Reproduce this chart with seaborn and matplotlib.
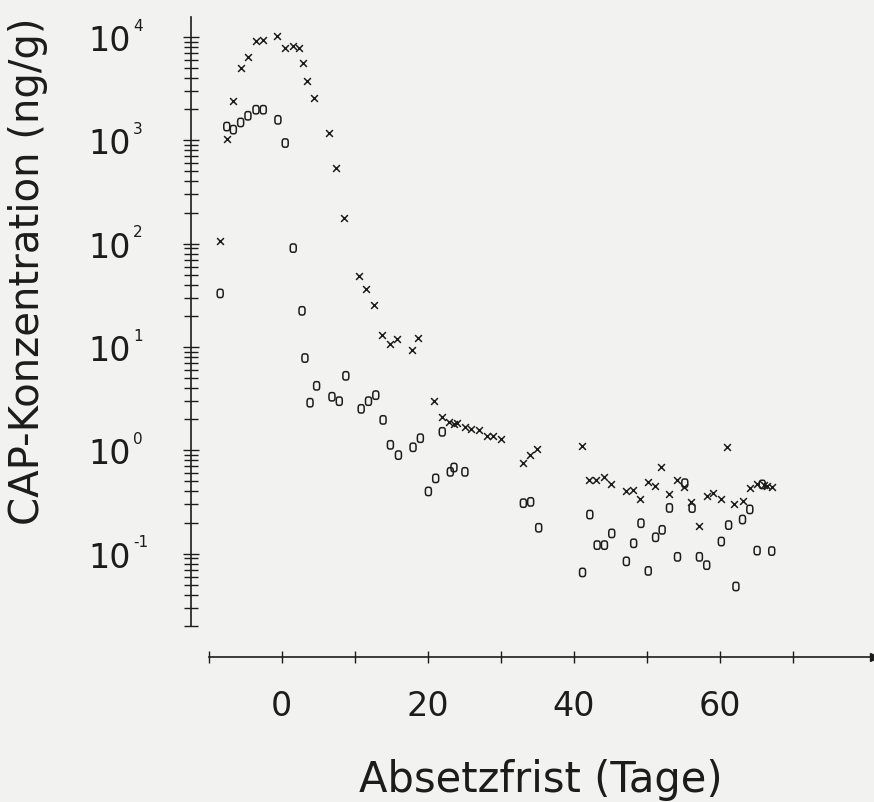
import numpy as np
import pandas as pd
import matplotlib
matplotlib.use('Agg')
import matplotlib.pyplot as plt
import matplotlib.ticker as ticker
import matplotlib.transforms as mtransforms
from matplotlib.path import Path
import seaborn as sns

"""Data read off the plot: CAP concentration vs. withdrawal time"""
# series drawn with 'x'
x_days = [-8.4, -7.5, -6.6, -5.6, -4.6, -3.5, -2.6, -0.6, 0.5, 1.5, 2.4, 2.9, 3.5, 4.5,
          6.5, 7.5, 8.5, 10.6, 11.6, 12.7, 13.7, 14.8, 15.8, 17.9, 18.7, 20.9, 21.9,
          22.9, 23.6, 24.0, 25.1, 26.0, 27.0, 28.1, 29.0, 30.0, 33.1, 34.0, 35.0,
          41.1, 42.1, 43.1, 44.1, 45.1, 47.1, 48.1, 49.1, 50.1, 51.1, 52.0, 53.0,
          54.1, 55.1, 56.1, 57.1, 58.2, 59.1, 60.1, 61.0, 62.0, 63.1, 64.1, 65.1,
          66.0, 66.5, 67.1]
x_conc = [105, 1030, 2420, 4980, 6350, 9090, 9420, 10150, 7830, 8240, 7830, 5600, 3720, 2550,
          1170, 536, 176, 48.9, 36.6, 25.5, 13.0, 10.6, 11.9, 9.33, 12.2, 3.01, 2.11,
          1.86, 1.79, 1.82, 1.69, 1.60, 1.58, 1.38, 1.38, 1.30, 0.746, 0.905, 1.02,
          1.11, 0.518, 0.518, 0.547, 0.471, 0.406, 0.412, 0.337, 0.496, 0.448, 0.695, 0.374,
          0.512, 0.438, 0.317, 0.186, 0.358, 0.383, 0.337, 1.07, 0.303, 0.324, 0.428, 0.468,
          0.463, 0.447, 0.443]

# series drawn with 'o'
o_days = [-8.4, -7.5, -6.6, -5.6, -4.6, -3.5, -2.5, -0.5, 0.5, 1.6, 2.8, 3.2, 3.9, 4.8,
          6.9, 7.9, 8.8, 10.9, 11.9, 12.9, 13.9, 14.9, 16.0, 18.0, 19.0, 20.1, 21.1,
          22.0, 23.1, 23.6, 25.1, 33.1, 34.1, 35.2, 41.2, 42.2, 43.2, 44.2, 45.2,
          47.2, 48.2, 49.2, 50.2, 51.2, 52.1, 53.1, 54.2, 55.2, 56.2, 57.2, 58.2,
          60.2, 61.2, 62.2, 63.1, 64.1, 65.1, 65.8, 67.1]
o_conc = [33.0, 1360, 1270, 1490, 1730, 1980, 1980, 1580, 942, 90.6, 22.4, 7.82, 2.89, 4.21,
          3.30, 2.99, 5.26, 2.52, 2.99, 3.42, 1.97, 1.13, 0.899, 1.07, 1.31, 0.400, 0.535,
          1.51, 0.619, 0.682, 0.619, 0.308, 0.317, 0.178, 0.0658, 0.239, 0.121, 0.121, 0.157,
          0.0842, 0.126, 0.197, 0.0681, 0.144, 0.170, 0.277, 0.0931, 0.481, 0.276, 0.0931, 0.0774,
          0.131, 0.189, 0.0481, 0.214, 0.268, 0.107, 0.468, 0.106]

x_tick_values = list(range(-10, 80, 10))
x_tick_labels = ['0', '20', '40', '60']
y_decades = [-1, 0, 1, 2, 3, 4]

df_x = pd.DataFrame({'day': x_days, 'conc': x_conc})
df_o = pd.DataFrame({'day': o_days, 'conc': o_conc})

paper = '#f2f2f0'
ink = '#1c1c1c'

sns.set_style('ticks')
plt.rcParams['font.family'] = ['DejaVu Sans']

fig = plt.figure(figsize=(8.74, 8.03), dpi=100, facecolor=paper)
ax = fig.add_axes([0.218, 0.1806, 0.782, 0.797])
ax.set_facecolor(paper)

# rounded "O" like the plotter glyph
t = np.linspace(0, 2 * np.pi, 60)
ox = 0.72 * np.sign(np.cos(t)) * np.abs(np.cos(t)) ** 0.6
oy = np.sign(np.sin(t)) * np.abs(np.sin(t)) ** 0.6
o_marker = Path(np.column_stack([ox, oy]))

sns.scatterplot(data=df_x, x='day', y='conc', marker='x', color=ink, s=24, linewidth=1.1, ax=ax, zorder=3)
sns.scatterplot(data=df_o, x='day', y='conc', marker=o_marker, color=ink, s=36, ax=ax, zorder=3)
pts = ax.collections[-1]
pts.set_facecolor('none')
pts.set_edgecolor(ink)
pts.set_linewidth(1.1)

ax.set_yscale('log')
ax.set_xlim(-12.46, 81.1)
ax.set_ylim(10 ** -2.0, 10 ** 4.194)

# detached axes like the plotter output
ax.spines[['top', 'right']].set_visible(False)
ax.spines['left'].set_bounds(0.02, 10 ** 4.194)
ax.spines['bottom'].set_bounds(-10, 81.1)
for s in ['left', 'bottom']:
    ax.spines[s].set_color(ink)
    ax.spines[s].set_linewidth(1.2)
ax.plot(1, 0, marker='>', ms=6, color=ink, transform=ax.transAxes, clip_on=False)

ax.set_xticks(x_tick_values)
ax.set_xticklabels([str(v) if str(v) in x_tick_labels else '' for v in x_tick_values])
ax.tick_params(axis='x', direction='inout', length=8.6, width=1, color=ink,
               labelsize=24, pad=19, labelcolor=ink)

# y labels: "10" as tick label, small exponent as separate text
ax.yaxis.set_major_locator(ticker.FixedLocator([10.0 ** d for d in y_decades]))
ax.yaxis.set_major_formatter(ticker.FixedFormatter(['10'] * len(y_decades)))
ax.yaxis.set_minor_locator(ticker.LogLocator(base=10, subs=np.arange(2, 10), numticks=20))
ax.yaxis.set_minor_formatter(ticker.NullFormatter())
ax.tick_params(axis='y', which='major', direction='inout', length=11.5, width=1, color=ink,
               labelsize=24, pad=37, labelcolor=ink)
ax.tick_params(axis='y', which='minor', direction='inout', length=10.5, width=1, color=ink)
exp_trans = mtransforms.offset_copy(ax.get_yaxis_transform(), fig=fig, x=0, y=12, units='dots')
for d in y_decades:
    ax.text(-0.0841, 10.0 ** d, str(d), transform=exp_trans, fontsize=11, color=ink,
            ha='left', va='center')

ax.set_xlabel('Absetzfrist (Tage)', fontsize=30, color=ink, va='center')
ax.xaxis.set_label_coords(0.513, -0.191)
ax.set_ylabel('CAP-Konzentration (ng/g)', fontsize=29, color=ink, va='center')
ax.yaxis.set_label_coords(-0.238, 0.605)

fig.savefig('out.png', dpi=100, facecolor=paper)
